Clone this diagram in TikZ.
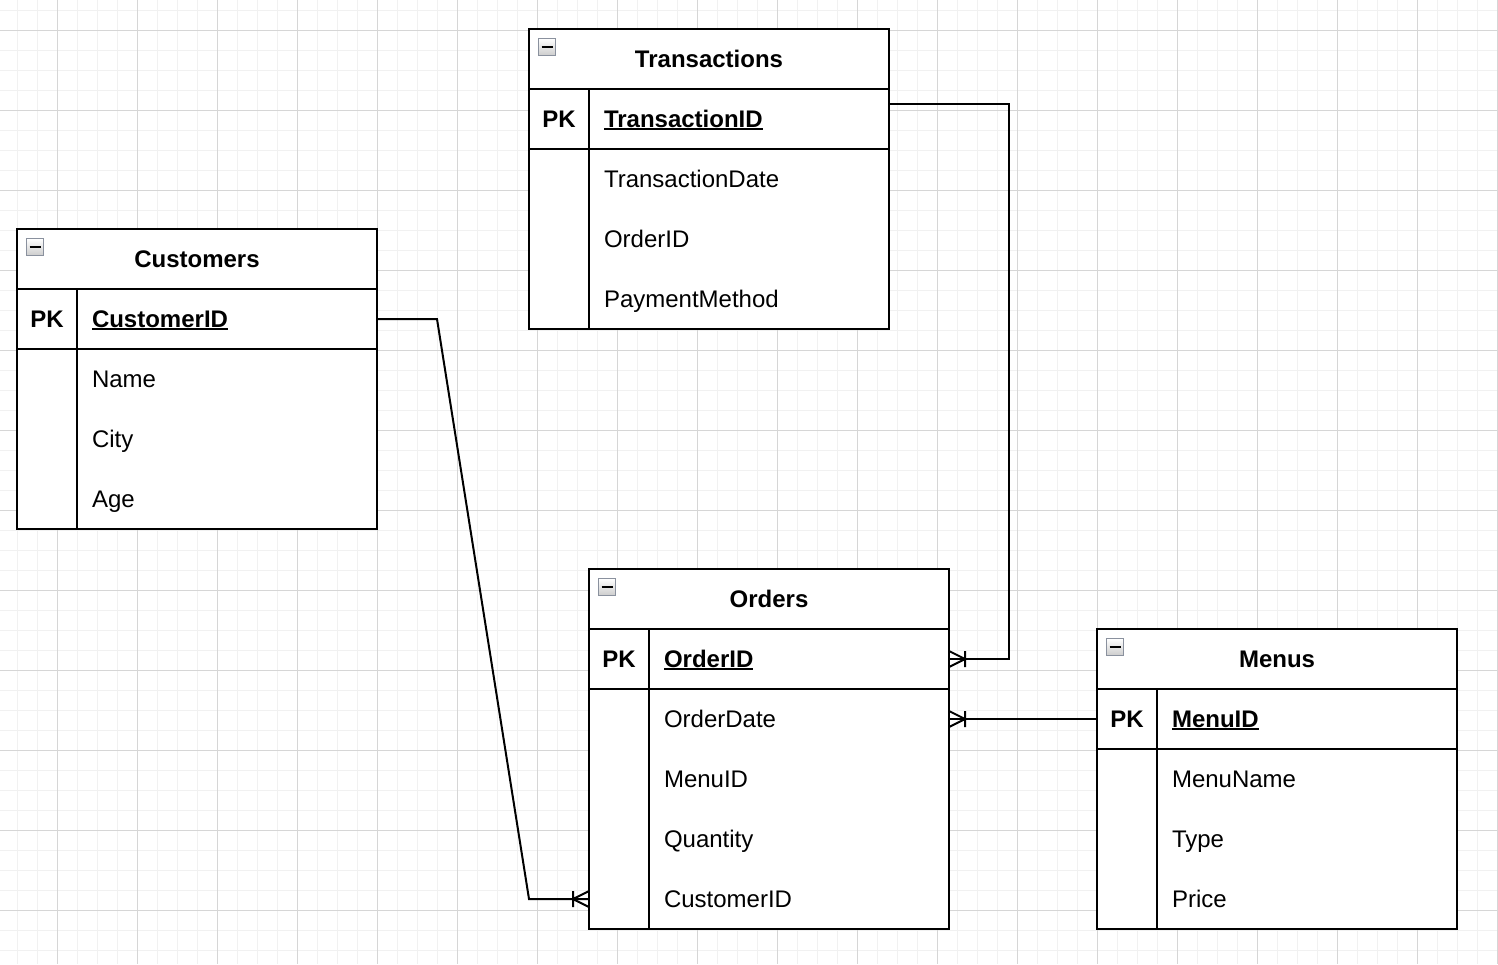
\documentclass[tikz,border=0pt]{standalone}
\usepackage{fontspec}
\setmainfont{Liberation Sans}
\usetikzlibrary{calc}
\definecolor{gridminor}{RGB}{241,241,241}
\definecolor{gridmajor}{RGB}{214,214,214}
\definecolor{boxgray}{RGB}{138,145,158}

\begin{document}
\begin{tikzpicture}[
        x=1pt, y=-1pt,
        every node/.style={font=\fontsize{24}{28}\selectfont, inner sep=0pt, outer sep=0pt},
        tbox/.style={draw, fill=white, line width=2pt, minimum width=360pt, anchor=north west},
        tline/.style={line width=2pt},
        ttitle/.style={font=\fontsize{24}{28}\selectfont\bfseries, text height=17pt, text depth=0pt},
        pk/.style={ttitle},
        field/.style={anchor=west, text height=17pt, text depth=0pt},
        keyfield/.style={field, font=\fontsize{24}{28}\selectfont\bfseries},
        keyline/.style={line width=1.8pt},
        minbox/.style={draw=boxgray, line width=1.5pt, minimum size=17pt, top color=white, bottom color=gray!40},
        rel/.style={line width=2pt},
        crowfoot/.pic={\draw[rel] (0,-8) -- (-16,0) -- (0,8) (-16,-8) -- (-16,8);}
    ]
        \useasboundingbox (0,0) rectangle (1498,964);

        % Lưới nền
        \foreach \x in {17,37,...,1497} \draw[gridminor] (\x,0) -- (\x,964);
        \foreach \y in {10,30,...,950} \draw[gridminor] (0,\y) -- (1498,\y);
        \foreach \x in {57,137,...,1497} \draw[gridmajor] (\x,0) -- (\x,964);
        \foreach \y in {30,110,...,910} \draw[gridmajor] (0,\y) -- (1498,\y);

        % Bảng Transactions
        \node[tbox, minimum height=300pt] (tra) at (529,29) {};
        \draw[tline] ([yshift=-60pt]tra.north west) -- ([yshift=-60pt]tra.north east);
        \draw[tline] ([yshift=-120pt]tra.north west) -- ([yshift=-120pt]tra.north east);
        \draw[tline] ([shift={(60pt,-60pt)}]tra.north west) -- ([xshift=60pt]tra.south west);
        \node[minbox] (tra-min) at ([shift={(18pt,-18pt)}]tra.north west) {\rule{11pt}{2.5pt}};
        \node[ttitle] (tra-title) at (709,59) {Transactions};
        \node[pk] (tra-pk) at (559,119) {PK};
        \node[keyfield] (tra-key) at (604,119) {TransactionID};
        \draw[keyline] ([yshift=-1.5pt]tra-key.south west) -- ([yshift=-1.5pt]tra-key.south east);
        \node[field] (tra-date) at (604,179) {TransactionDate};
        \node[field] (tra-oid) at (604,239) {OrderID};
        \node[field] (tra-pay) at (604,299) {PaymentMethod};

        % Bảng Customers
        \node[tbox, minimum height=300pt] (cust) at (17,229) {};
        \draw[tline] ([yshift=-60pt]cust.north west) -- ([yshift=-60pt]cust.north east);
        \draw[tline] ([yshift=-120pt]cust.north west) -- ([yshift=-120pt]cust.north east);
        \draw[tline] ([shift={(60pt,-60pt)}]cust.north west) -- ([xshift=60pt]cust.south west);
        \node[minbox] (cust-min) at ([shift={(18pt,-18pt)}]cust.north west) {\rule{11pt}{2.5pt}};
        \node[ttitle] (cust-title) at (197,259) {Customers};
        \node[pk] (cust-pk) at (47,319) {PK};
        \node[keyfield] (cust-key) at (92,319) {CustomerID};
        \draw[keyline] ([yshift=-1.5pt]cust-key.south west) -- ([yshift=-1.5pt]cust-key.south east);
        \node[field] (cust-name) at (92,379) {Name};
        \node[field] (cust-city) at (92,439) {City};
        \node[field] (cust-age) at (92,499) {Age};

        % Bảng Orders
        \node[tbox, minimum height=360pt] (ord) at (589,569) {};
        \draw[tline] ([yshift=-60pt]ord.north west) -- ([yshift=-60pt]ord.north east);
        \draw[tline] ([yshift=-120pt]ord.north west) -- ([yshift=-120pt]ord.north east);
        \draw[tline] ([shift={(60pt,-60pt)}]ord.north west) -- ([xshift=60pt]ord.south west);
        \node[minbox] (ord-min) at ([shift={(18pt,-18pt)}]ord.north west) {\rule{11pt}{2.5pt}};
        \node[ttitle] (ord-title) at (769,599) {Orders};
        \node[pk] (ord-pk) at (619,659) {PK};
        \node[keyfield] (ord-key) at (664,659) {OrderID};
        \draw[keyline] ([yshift=-1.5pt]ord-key.south west) -- ([yshift=-1.5pt]ord-key.south east);
        \node[field] (ord-date) at (664,719) {OrderDate};
        \node[field] (ord-mid) at (664,779) {MenuID};
        \node[field] (ord-qty) at (664,839) {Quantity};
        \node[field] (ord-cid) at (664,899) {CustomerID};

        % Bảng Menus
        \node[tbox, minimum height=300pt] (men) at (1097,629) {};
        \draw[tline] ([yshift=-60pt]men.north west) -- ([yshift=-60pt]men.north east);
        \draw[tline] ([yshift=-120pt]men.north west) -- ([yshift=-120pt]men.north east);
        \draw[tline] ([shift={(60pt,-60pt)}]men.north west) -- ([xshift=60pt]men.south west);
        \node[minbox] (men-min) at ([shift={(18pt,-18pt)}]men.north west) {\rule{11pt}{2.5pt}};
        \node[ttitle] (men-title) at (1277,659) {Menus};
        \node[pk] (men-pk) at (1127,719) {PK};
        \node[keyfield] (men-key) at (1172,719) {MenuID};
        \draw[keyline] ([yshift=-1.5pt]men-key.south west) -- ([yshift=-1.5pt]men-key.south east);
        \node[field] (men-name) at (1172,779) {MenuName};
        \node[field] (men-type) at (1172,839) {Type};
        \node[field] (men-price) at (1172,899) {Price};

        % Các liên kết
        \draw[rel] (cust-key -| cust.east) -- ++(60,0) -- ($(ord-cid -| ord.west)+(-60,0)$) -- (ord-cid -| ord.west);
        \pic at (ord-cid -| ord.west) {crowfoot};
        \draw[rel] ($(tra-key -| tra.east)+(0,-15)$) -- ++(120,0) |- (ord-key -| ord.east);
        \pic[rotate=180] at (ord-key -| ord.east) {crowfoot};
        \draw[rel] (men-key -| men.west) -- (ord-date -| ord.east);
        \pic[rotate=180] at (ord-date -| ord.east) {crowfoot};
    \end{tikzpicture}
\end{document}
